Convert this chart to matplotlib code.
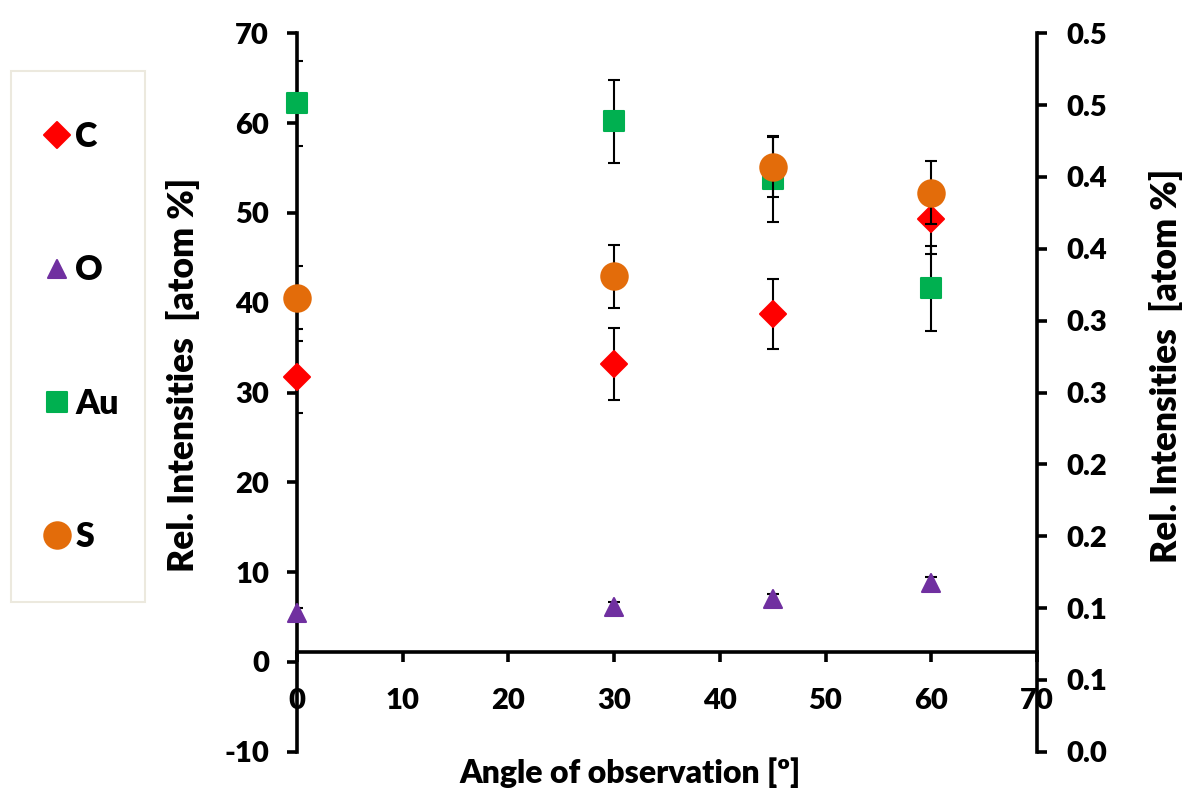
import matplotlib
matplotlib.use('Agg')
import matplotlib.pyplot as plt
from matplotlib.markers import MarkerStyle
from matplotlib.patches import Rectangle

# data
angle = [0, 30, 45, 60]
c_val = [31.7, 33.2, 38.7, 49.3]
c_err = [4.0, 4.0, 3.9, 3.9]
o_val = [5.5, 6.1, 7.0, 8.8]
o_err = [0.5, 0.6, 0.6, 0.7]
au_val = [62.2, 60.2, 53.8, 41.6]
au_err = [4.7, 4.6, 4.8, 4.7]
s_val = [0.316, 0.331, 0.407, 0.389]   # secondary axis
s_err = [0.022, 0.022, 0.021, 0.022]

x_ticks = [0, 10, 20, 30, 40, 50, 60, 70]
left_ticks = [-10, 0, 10, 20, 30, 40, 50, 60, 70]
right_ticks = [0.0, 0.05, 0.1, 0.15, 0.2, 0.25, 0.3, 0.35, 0.4, 0.45, 0.5]
right_tick_labels = ['0.0', '0.1', '0.1', '0.2', '0.2', '0.3', '0.3', '0.4', '0.4', '0.5', '0.5']

plt.rcParams['font.family'] = ['Lato', 'DejaVu Sans']
plt.rcParams['font.weight'] = 'heavy'
plt.rcParams['axes.labelweight'] = 'heavy'
plt.rcParams['axes.unicode_minus'] = False

W, H = 1186, 789
fig = plt.figure(figsize=(W / 100, H / 100), dpi=100)
ax = fig.add_axes([297 / W, 1 - 751.7 / H, 740 / W, 718.4 / H])
ax2 = ax.twinx()

lw = 2.6
tick_fs = 21
lab_fs = 25.5

def series(a, x, y, e, marker, ms, color, z):
    a.errorbar(x, y, yerr=e, fmt='none', ecolor='black', elinewidth=1.5,
               capsize=4, capthick=1.5, zorder=z)
    line, = a.plot(x, y, linestyle='none', marker=MarkerStyle(marker, joinstyle='round'),
                   ms=ms, mfc=color, mec=color, mew=1.5, clip_on=False, zorder=z + 1)
    return line

h_c = series(ax, angle, c_val, c_err, 'D', 13.5, '#FF0000', 3)
h_o = series(ax, angle, o_val, o_err, '^', 13.5, '#7030A0', 5)
h_au = series(ax, angle, au_val, au_err, 's', 15, '#00B050', 7)
h_s = series(ax2, angle, s_val, s_err, 'o', 19, '#E36C0A', 3)

ax.set_xlim(0, 70)
ax.set_ylim(-10, 70)
ax2.set_ylim(0, 0.5)

for s in ['top', 'right']:
    ax.spines[s].set_visible(False)
for s in ['top', 'left', 'bottom']:
    ax2.spines[s].set_visible(False)
ax.spines['bottom'].set_position(('data', 1.1))
for sp in [ax.spines['left'], ax.spines['bottom'], ax2.spines['right']]:
    sp.set_linewidth(lw)

ax.set_xticks(x_ticks)
ax.set_yticks(left_ticks)
ax2.set_yticks(right_ticks)
ax2.set_yticklabels(right_tick_labels)

ax.tick_params(axis='x', direction='out', length=7, width=lw, pad=19, labelsize=tick_fs)
ax.tick_params(axis='y', direction='out', length=7, width=lw, pad=13, labelsize=tick_fs)
ax2.tick_params(axis='y', direction='out', length=7, width=lw, pad=14, labelsize=tick_fs)

ax.set_xlabel('Angle of observation [º]', fontsize=23)
ax.xaxis.set_label_coords(0.45, -0.044)
ax.xaxis.label.set_va('baseline')

ax.set_ylabel('Rel. Intensities  [atom %]', fontsize=lab_fs)
ax.yaxis.set_label_coords(-0.154, 0.525)
ax.yaxis.label.set_va('center')

ax2.set_ylabel('Rel. Intensities  [atom %]', fontsize=lab_fs, rotation=90)
ax2.yaxis.set_label_coords(1.174, 0.537)
ax2.yaxis.label.set_va('center')
ax2.yaxis.label.set_rotation_mode('anchor')

fig.legend([h_c, h_o, h_au, h_s], ['C', 'O', 'Au', 'S'], loc='center left',
           bbox_to_anchor=(39.7 / W, 1 - 337 / H), frameon=False, fontsize=24.5,
           borderpad=0, borderaxespad=0, handlelength=1.0, handletextpad=0.05,
           labelspacing=2.97)
fig.add_artist(Rectangle((11 / W, 1 - 602 / H), 134 / W, 531 / H, transform=fig.transFigure,
                         fill=False, edgecolor='#ECE9DE', lw=1.5))

fig.savefig('out.png', dpi=100)
